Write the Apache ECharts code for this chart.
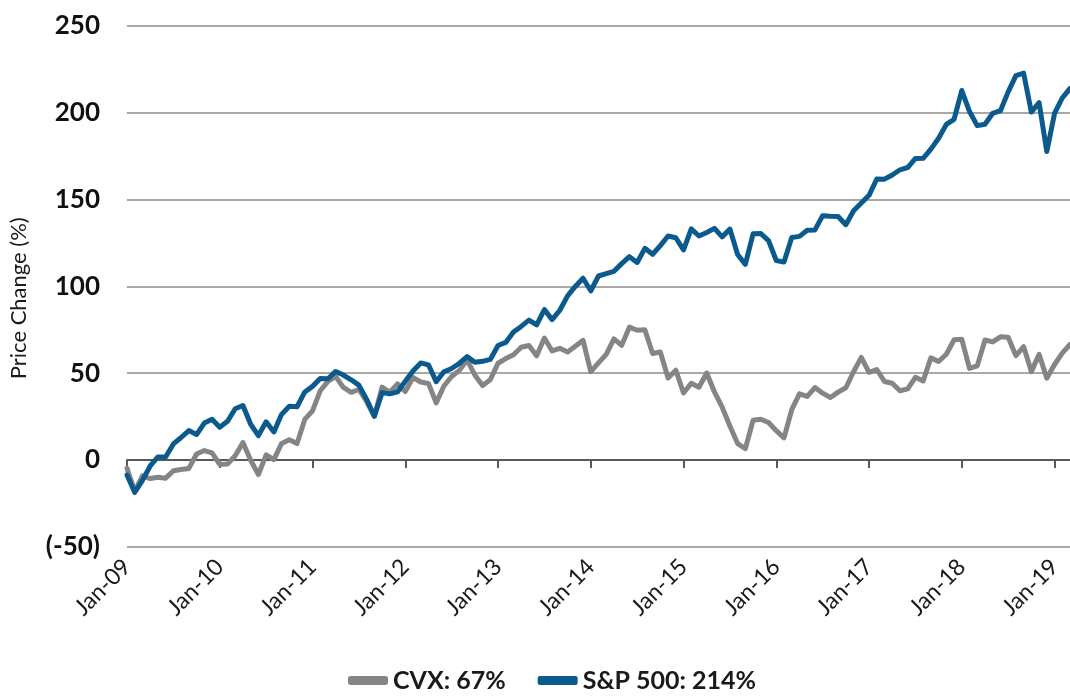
<!DOCTYPE html>
<html>
<head>
<meta charset="utf-8">
<script src="https://cdn.jsdelivr.net/npm/echarts@6/dist/echarts.min.js"></script>
<style>html,body{margin:0;padding:0;background:#fff}#c{width:1070px;height:698px}</style>
</head>
<body>
<div id="c"></div>
<script>
const monthNames = ['Jan','Feb','Mar','Apr','May','Jun','Jul','Aug','Sep','Oct','Nov','Dec'];
const years = ['09','10','11','12','13','14','15','16','17','18','19'];
const categories = [];
years.forEach(y => monthNames.forEach(m => categories.push(m + '-' + y)));
categories.length = 123; // Jan-09 .. Mar-19

const seriesNames = ['CVX: 67%', 'S&P 500: 214%'];

const cvx = [
  -4.7, -17.9, -9.1, -10.6, -9.9, -10.4, -6.1, -5.4, -4.8, 3.5, 5.5, 4.1,
  -2.5, -2.3, 2.5, 10.1, -0.1, -8.3, 3.0, 0.3, 9.6, 11.7, 9.5, 23.4,
  28.3, 39.9, 45.3, 48.0, 41.8, 39.0, 40.6, 33.7, 25.2, 42.0, 39.0, 43.8,
  39.4, 47.5, 44.9, 44.1, 32.9, 42.6, 48.1, 51.6, 57.6, 49.0, 42.9, 46.2,
  55.7, 58.4, 60.6, 64.9, 65.9, 60.0, 70.2, 62.8, 64.3, 62.2, 65.5, 68.9,
  50.9, 55.9, 60.8, 69.7, 66.0, 76.5, 74.7, 75.0, 61.3, 62.2, 47.2, 51.7,
  38.6, 44.2, 41.9, 50.1, 39.2, 30.4, 19.6, 9.5, 6.6, 22.9, 23.5, 21.6,
  16.9, 12.8, 29.0, 38.1, 36.6, 41.7, 38.5, 36.0, 39.1, 41.6, 50.8, 59.1,
  50.5, 52.1, 45.2, 44.2, 39.9, 41.0, 47.6, 45.5, 58.8, 56.7, 60.9, 69.2,
  69.5, 52.7, 54.2, 69.1, 68.0, 70.9, 70.7, 60.1, 65.3, 50.9, 60.8, 47.1,
  55.0, 61.5, 66.5
];

const sp500 = [
  -8.6, -18.6, -11.7, -3.4, 1.8, 1.8, 9.3, 13.0, 17.0, 14.7, 21.3, 23.5,
  18.9, 22.3, 29.5, 31.4, 20.6, 14.1, 22.0, 16.2, 26.3, 31.0, 30.7, 39.2,
  42.4, 46.9, 46.8, 51.0, 48.9, 46.2, 43.1, 34.9, 25.3, 38.8, 38.1, 39.2,
  45.3, 51.2, 55.9, 54.8, 45.1, 50.8, 52.7, 55.7, 59.5, 56.3, 56.8, 57.9,
  65.9, 67.7, 73.7, 76.9, 80.5, 77.8, 86.6, 80.8, 86.2, 94.5, 99.9, 104.6,
  97.4, 105.9, 107.3, 108.6, 113.0, 117.0, 113.7, 121.8, 118.4, 123.4, 128.9, 127.9,
  120.9, 133.0, 128.9, 130.9, 133.3, 128.4, 132.9, 118.3, 112.6, 130.2, 130.3, 126.3,
  114.8, 113.9, 128.0, 128.7, 132.2, 132.4, 140.6, 140.3, 140.1, 135.4, 143.4, 147.9,
  152.3, 161.7, 161.6, 164.0, 167.0, 168.3, 173.5, 173.6, 178.9, 185.1, 193.1, 196.0,
  212.6, 200.5, 192.4, 193.2, 199.5, 201.0, 211.8, 221.2, 222.6, 200.2, 205.6, 177.5,
  199.4, 208.3, 213.8
];

const yTicks = { min: -50, max: 250, interval: 50 };

const FONT = 'Lato, "Open Sans", sans-serif';
const chart = echarts.init(document.getElementById('c'), null, { renderer: 'canvas' });
const yearTick = (i) => i % 12 === 0;

chart.setOption({
  animation: false,
  backgroundColor: '#ffffff',
  grid: { left: 127, right: -6, top: 25.5, bottom: 151, containLabel: false },
  legend: {
    left: 343, bottom: 0,
    data: seriesNames,
    icon: 'roundRect', itemWidth: 40, itemHeight: 9, itemGap: 32,
    textStyle: { fontFamily: FONT, fontSize: 25, fontWeight: 'bold', color: '#1a1a1a' }
  },
  xAxis: [
    {
      type: 'category', data: categories, boundaryGap: false,
      axisLine: { onZero: true, lineStyle: { color: '#595959', width: 2 } },
      axisTick: { show: true, interval: yearTick, length: 8, lineStyle: { color: '#595959', width: 2 } },
      axisLabel: { show: false },
      splitLine: { show: false }
    },
    {
      type: 'category', data: categories, boundaryGap: false, position: 'bottom',
      axisLine: { show: false, onZero: false },
      axisTick: { show: false },
      axisLabel: { interval: yearTick, rotate: 45, margin: 16, fontFamily: FONT, fontSize: 23, color: '#1a1a1a' },
      splitLine: { show: false }
    }
  ],
  yAxis: {
    type: 'value', min: yTicks.min, max: yTicks.max, interval: yTicks.interval,
    name: 'Price Change (%)', nameLocation: 'middle', nameGap: 97,
    nameTextStyle: { fontFamily: FONT, fontSize: 22, color: '#1a1a1a', padding: [0, 24, 0, 0] },
    axisLine: { show: false }, axisTick: { show: false },
    axisLabel: {
      margin: 27, fontFamily: FONT, fontSize: 26, fontWeight: 'bold', color: '#111',
      formatter: v => v < 0 ? '(' + v + ')' : String(v)
    },
    splitLine: { lineStyle: { color: '#a8a8a8', width: 2 } }
  },
  series: [
    {
      name: seriesNames[0], type: 'line', data: cvx, xAxisIndex: 0,
      showSymbol: false, symbol: 'none', color: '#858585',
      lineStyle: { width: 5, color: '#858585', cap: 'round', join: 'round' }
    },
    {
      name: seriesNames[1], type: 'line', data: sp500, xAxisIndex: 0,
      showSymbol: false, symbol: 'none', color: '#0b5a8e',
      lineStyle: { width: 5, color: '#0b5a8e', cap: 'round', join: 'round' }
    }
  ]
});
</script>
</body>
</html>
